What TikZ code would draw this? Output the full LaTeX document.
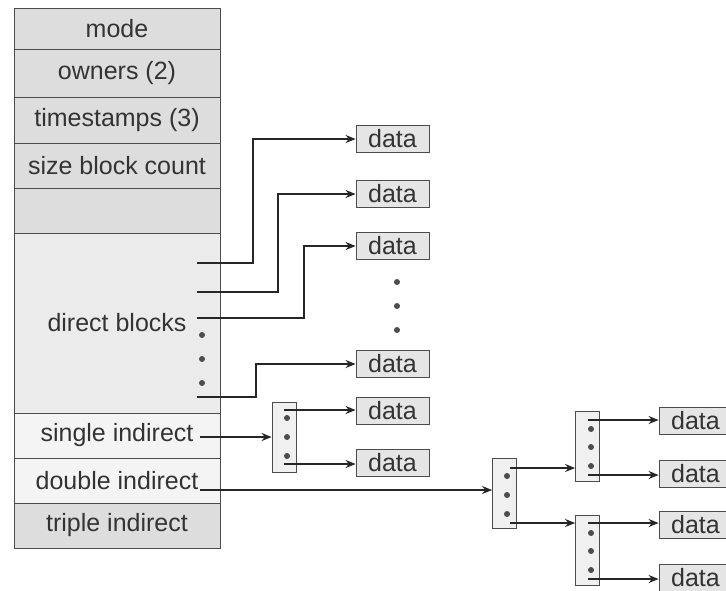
\documentclass[tikz,border=0pt]{standalone}
\usepackage{fontspec}
\setmainfont{Liberation Sans}
\usetikzlibrary{arrows.meta}

\begin{document}
\begin{tikzpicture}[x=0.5pt, y=-0.5pt, >={Stealth[length=5pt, width=4pt]},
    font=\fontsize{12.5}{15}\selectfont]
    \colorlet{inodegray}{gray!27}
    \colorlet{edgegray}{black!70}
    \tikzset{
        row/.style={draw=edgegray, fill=inodegray, minimum width=103pt,
            minimum height=22.5pt, inner sep=0pt, text=black!80},
        datablk/.style={draw=edgegray, fill=gray!20, minimum width=36.5pt,
            minimum height=13.5pt, inner sep=0pt, text=black!80},
        iblk/.style={draw=edgegray, fill=gray!12, minimum width=12pt,
            minimum height=35pt, inner sep=0pt},
        ptr/.style={->, line width=1pt, black!85},
        dot/.style={circle, fill=black!70, inner sep=0pt, minimum size=3pt}
    }
    \useasboundingbox (0,0) rectangle (726,590);
    \clip (0,0) rectangle (726,590);

    % inode
    \node[row, minimum height=20.5pt] (mode) at (117,28.5) {mode};
    \node[row, minimum height=24pt] (owners) at (117,73) {owners (2)};
    \node[row, minimum height=23pt] (stamps) at (117,120) {timestamps (3)};
    \node[row] (size)   at (117,165.5) {size block count};
    \node[row] (spare)  at (117,210.5) {};
    \node[row, fill=gray!16, minimum height=90pt] (direct) at (117,323) {direct blocks};
    \node[row, fill=gray!9] (single) at (117,435.5) {single indirect};
    \node[row, fill=gray!9] (double) at (117,480.5) {double indirect};
    \node[row] (triple) at (117,525.5) {triple indirect};
    \foreach \y in {335,359,383} \node[dot] at (202,\y) {};

    % direct data blocks
    \node[datablk] (data1) at (392.5,139) {data};
    \node[datablk] (data2) at (392.5,194) {data};
    \node[datablk] (data3) at (392.5,246) {data};
    \node[datablk] (data4) at (392.5,364) {data};
    \node[datablk] (data5) at (392.5,411) {data};
    \node[datablk] (data6) at (392.5,463) {data};
    \foreach \y in {282,306,330} \node[dot] at (397,\y) {};

    \coordinate (d1) at (197,263);
    \coordinate (d2) at (197,292);
    \coordinate (d3) at (197,318);
    \coordinate (d4) at (197,397);
    \draw[ptr] (d1) -- ++(56,0) |- (data1);
    \draw[ptr] (d2) -- ++(81,0) |- (data2);
    \draw[ptr] (d3) -- ++(107,0) |- (data3);
    \draw[ptr] (d4) -- ++(59,0) |- (data4);

    % single indirect
    \node[iblk] (sblk) at (284,437) {};
    \foreach \y in {418,437,456} \node[dot] at (287,\y) {};
    \coordinate (s0) at (200,437);
    \coordinate (s1) at (284,410);
    \coordinate (s2) at (284,464);
    \draw[ptr] (s0) -- (sblk);
    \draw[ptr] (s1) -- (s1 -| data5.west);
    \draw[ptr] (s2) -- (s2 -| data6.west);

    % double indirect
    \node[iblk] (dblk)  at (504.5,493.5) {};
    \node[iblk] (dblk1) at (587.5,446.5) {};
    \node[iblk] (dblk2) at (587.5,550)   {};
    \foreach \y in {476,495,514} \node[dot] at (507,\y) {};
    \foreach \y in {429,447,466,533,551,570} \node[dot] at (591,\y) {};

    \node[datablk] (data7)  at (695.5,421) {data};
    \node[datablk] (data8)  at (695.5,474) {data};
    \node[datablk] (data9)  at (695.5,525) {data};
    \node[datablk] (data10) at (695.5,578) {data};

    \coordinate (b0) at (200,490);
    \coordinate (b1) at (510,468);
    \coordinate (b2) at (510,523);
    \draw[ptr] (b0) -- (b0 -| dblk.west);
    \draw[ptr] (b1) -- (b1 -| dblk1.west);
    \draw[ptr] (b2) -- (b2 -| dblk2.west);

    \coordinate (c1) at (588,420);
    \coordinate (c2) at (588,475);
    \coordinate (c3) at (588,523);
    \coordinate (c4) at (588,579);
    \draw[ptr] (c1) -- (c1 -| data7.west);
    \draw[ptr] (c2) -- (c2 -| data8.west);
    \draw[ptr] (c3) -- (c3 -| data9.west);
    \draw[ptr] (c4) -- (c4 -| data10.west);
\end{tikzpicture}
\end{document}
